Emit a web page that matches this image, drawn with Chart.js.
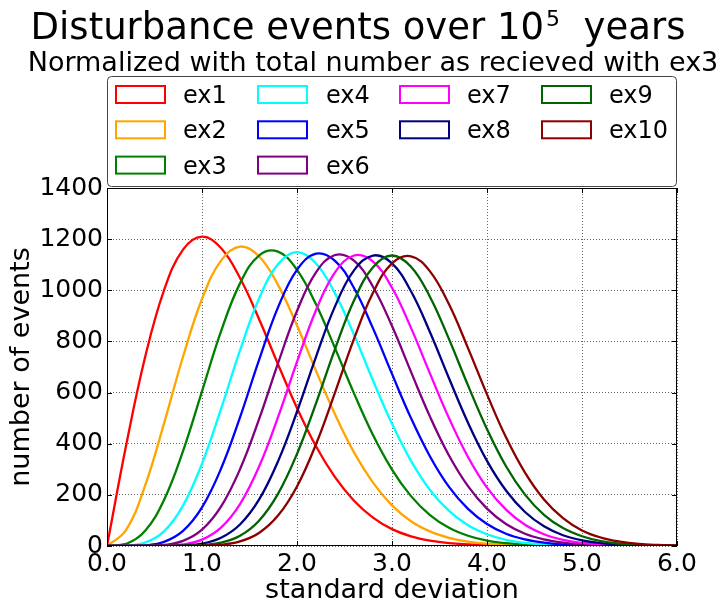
<!DOCTYPE html>
<html>
<head>
<meta charset="utf-8">
<script src="https://cdn.jsdelivr.net/npm/chart.js@4/dist/chart.umd.min.js"></script>
<style>
  html, body { margin: 0; padding: 0; background: #fff; }
  #wrap { width: 721px; height: 610px; }
</style>
</head>
<body>
<div id="wrap"><canvas id="myChart" width="721" height="610"></canvas></div>
<script>
// Data
const xs = [0.0, 0.2, 0.4, 0.6, 0.8, 1.0, 1.2, 1.4, 1.6, 1.8, 2.0, 2.2, 2.4, 2.6, 2.8, 3.0,
            3.2, 3.4, 3.6, 3.8, 4.0, 4.2, 4.4, 4.6, 4.8, 5.0, 5.2, 5.4, 5.6, 5.8, 6.0];

const ex1  = [0, 391, 737, 1000, 1159, 1210, 1165, 1048, 888, 711, 540, 390, 269, 177, 111, 66, 38, 21, 11, 6, 3, 1, 1, 0, 0, 0, 0, 0, 0, 0, 0];
const ex2  = [0, 62, 235, 479, 740, 966, 1116, 1171, 1133, 1021, 862, 685, 515, 366, 248, 159, 97, 57, 32, 17, 9, 4, 2, 1, 0, 0, 0, 0, 0, 0, 0];
const ex3  = [0, 8, 59, 180, 371, 605, 839, 1027, 1136, 1151, 1080, 945, 774, 597, 434, 299, 195, 121, 71, 40, 21, 11, 5, 2, 1, 0, 0, 0, 0, 0, 0];
const ex4  = [0, 1, 13, 57, 158, 322, 536, 765, 967, 1102, 1149, 1105, 988, 826, 647, 478, 333, 219, 137, 81, 46, 24, 12, 6, 3, 1, 1, 0, 0, 0, 0];
const ex5  = [0, 0, 2, 16, 59, 151, 302, 503, 727, 933, 1080, 1143, 1115, 1009, 851, 673, 500, 350, 231, 145, 86, 48, 26, 13, 6, 3, 1, 1, 0, 0, 0];
const ex6  = [0, 0, 0, 4, 20, 64, 154, 300, 495, 714, 919, 1070, 1138, 1116, 1014, 860, 681, 506, 354, 234, 146, 86, 48, 26, 13, 6, 3, 1, 1, 0, 0];
const ex7  = [0, 0, 0, 1, 6, 25, 72, 164, 310, 504, 720, 922, 1070, 1136, 1112, 1010, 853, 674, 500, 348, 228, 142, 83, 46, 24, 12, 6, 3, 1, 0, 0];
const ex8  = [0, 0, 0, 0, 2, 9, 32, 84, 181, 331, 525, 740, 937, 1078, 1136, 1105, 996, 836, 656, 482, 333, 217, 133, 77, 42, 22, 11, 5, 2, 1, 0];
const ex9  = [0, 0, 0, 0, 1, 3, 13, 40, 99, 204, 360, 558, 770, 960, 1090, 1136, 1092, 974, 809, 628, 457, 312, 201, 122, 70, 38, 19, 9, 4, 2, 1];
const ex10 = [0, 0, 0, 0, 0, 1, 5, 18, 51, 119, 233, 398, 600, 810, 990, 1105, 1133, 1074, 945, 774, 593, 425, 287, 182, 109, 61, 33, 17, 8, 4, 2];

const labels = ['ex1', 'ex2', 'ex3', 'ex4', 'ex5', 'ex6', 'ex7', 'ex8', 'ex9', 'ex10'];
const series = [ex1, ex2, ex3, ex4, ex5, ex6, ex7, ex8, ex9, ex10];
const colors = ['#ff0000', '#ffa500', '#008000', '#00ffff', '#0000ff',
                '#800080', '#ff00ff', '#000080', '#006400', '#8b0000'];

const FONT = 'DejaVu Sans';

// Titles above the legend box, with a raised exponent
const titlePlugin = {
    id: 'titles',
    afterDraw(chart) {
        const ctx = chart.ctx;
        ctx.save();
        ctx.fillStyle = '#000';
        ctx.textBaseline = 'alphabetic';

        const big = '37px "' + FONT + '"';
        const small = '22px "' + FONT + '"';
        const a = 'Disturbance events over 10', b = '5', c = '  years';
        ctx.font = big;
        const wa = ctx.measureText(a).width, wc = ctx.measureText(c).width;
        ctx.font = small;
        const wb = ctx.measureText(b).width;
        let x = 358 - (wa + wb + wc + 2) / 2;
        ctx.font = big;
        ctx.fillText(a, x, 39);
        ctx.font = small;
        ctx.fillText(b, x + wa + 2, 26);
        ctx.font = big;
        ctx.fillText(c, x + wa + wb + 2, 39);

        ctx.font = '27px "' + FONT + '"';
        ctx.textAlign = 'center';
        ctx.fillText('Normalized with total number as recieved with ex3', 373, 71);
        ctx.restore();
    }
};

// Legend laid out in 4 columns, filled column by column (3, 3, 2, 2)
const legendPlugin = {
    id: 'boxLegend',
    afterDraw(chart) {
        const ctx = chart.ctx;
        ctx.save();
        ctx.beginPath();
        ctx.roundRect(107.5, 76.5, 569, 110, 4);
        ctx.fillStyle = '#fff';
        ctx.fill();
        ctx.strokeStyle = '#444';
        ctx.lineWidth = 1;
        ctx.stroke();

        const colStart = [0, 3, 6, 8];
        const swatchX = [116, 258, 400, 542];
        const textX = [183, 326, 467, 609];
        ctx.font = '24px "' + FONT + '"';
        ctx.textBaseline = 'alphabetic';
        chart.data.datasets.forEach((ds, i) => {
            let col = 0;
            for (let c = 0; c < colStart.length; c++) if (i >= colStart[c]) col = c;
            const row = i - colStart[col];
            const top = 86 + row * 35.3;
            ctx.strokeStyle = ds.borderColor;
            ctx.lineWidth = 2;
            ctx.strokeRect(swatchX[col], top, 49, 17);
            ctx.fillStyle = '#000';
            ctx.fillText(ds.label, textX[col], top + 17);
        });
        ctx.restore();
    }
};

// Axes frame with inward tick marks on all four sides
const framePlugin = {
    id: 'frame',
    afterDatasetsDraw(chart) {
        const { ctx, chartArea: a, scales } = chart;
        ctx.save();
        ctx.strokeStyle = '#000';
        ctx.lineWidth = 1;
        ctx.beginPath();
        scales.x.ticks.forEach(t => {
            const px = Math.round(scales.x.getPixelForValue(t.value)) + 0.5;
            ctx.moveTo(px, a.bottom); ctx.lineTo(px, a.bottom - 5);
            ctx.moveTo(px, a.top); ctx.lineTo(px, a.top + 5);
        });
        scales.y.ticks.forEach(t => {
            const py = Math.round(scales.y.getPixelForValue(t.value)) + 0.5;
            ctx.moveTo(a.left, py); ctx.lineTo(a.left + 5, py);
            ctx.moveTo(a.right, py); ctx.lineTo(a.right - 5, py);
        });
        ctx.stroke();
        ctx.strokeRect(a.left + 0.5, a.top + 0.5, a.right - a.left - 1, a.bottom - a.top - 1);
        ctx.restore();
    }
};

const datasets = series.map((vals, i) => ({
    label: labels[i],
    data: xs.map((x, j) => ({ x: x, y: vals[j] })),
    borderColor: colors[i],
    backgroundColor: colors[i],
    borderWidth: 2.3,
    pointRadius: 0,
    tension: 0.4,
    fill: false,
    order: series.length - i,
}));

const tickFont = { family: FONT, size: 25 };
const axisFont = { family: FONT, size: 27 };
const gridOpts = { color: 'rgba(0,0,0,0.6)', lineWidth: 1, drawTicks: false };

const ctx = document.getElementById('myChart').getContext('2d');
const myChart = new Chart(ctx, {
    type: 'line',
    data: { datasets: datasets },
    options: {
        responsive: false,
        animation: false,
        layout: { padding: { top: 188, right: 44, left: 0, bottom: 0 } },
        plugins: {
            legend: { display: false },
            title: { display: false },
            tooltip: { enabled: false },
        },
        scales: {
            x: {
                type: 'linear',
                min: 0,
                max: 6,
                ticks: { stepSize: 1, font: tickFont, color: '#000', padding: 3, maxRotation: 0,
                         callback: v => v.toFixed(1) },
                grid: gridOpts,
                border: { display: false, dash: [1, 2] },
                title: { display: true, text: 'standard deviation', font: axisFont, color: '#000',
                         padding: { top: 0, bottom: 3 } },
                afterFit: s => { s.height = 64; },
            },
            y: {
                min: 0,
                max: 1400,
                ticks: { stepSize: 200, font: tickFont, color: '#000', padding: 4,
                         callback: v => String(v) },
                grid: gridOpts,
                border: { display: false, dash: [1, 2] },
                title: { display: true, text: 'number of events', font: axisFont, color: '#000',
                         padding: { top: 6, bottom: 0 } },
                afterFit: s => { s.width = 107; },
            },
        },
    },
    plugins: [framePlugin, legendPlugin, titlePlugin],
});
</script>
</body>
</html>
